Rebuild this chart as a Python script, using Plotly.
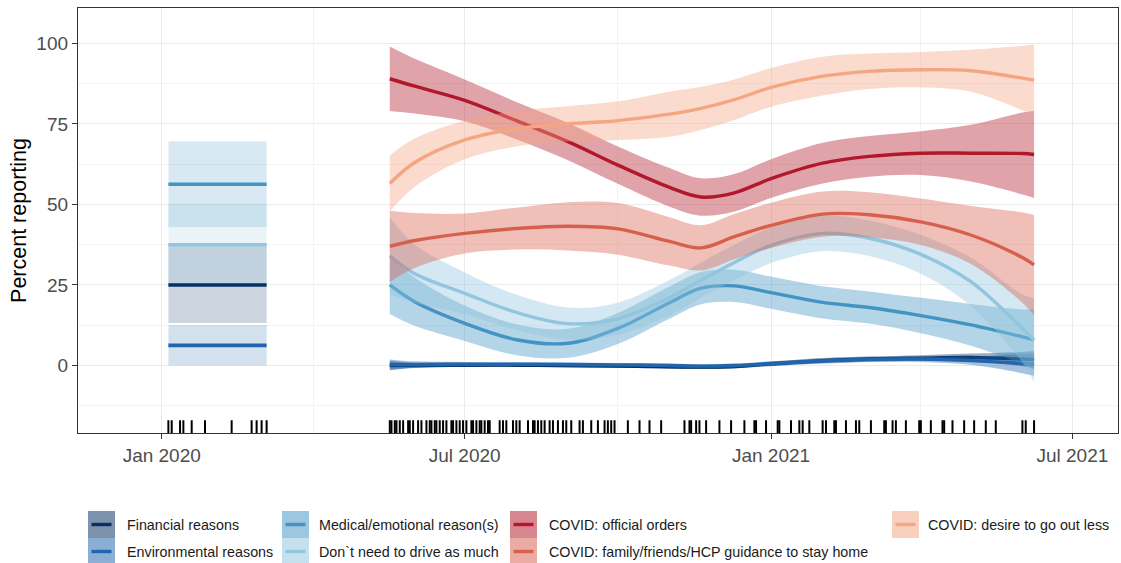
import plotly.graph_objects as go

# ---------------- data ----------------
categories = ["Financial reasons", "Environmental reasons", "Medical/emotional reason(s)",
              "Don`t need to drive as much", "COVID: official orders",
              "COVID: family/friends/HCP guidance to stay home", "COVID: desire to go out less"]
colors = ["#053061", "#2166AC", "#4393C3", "#92C5DE", "#B2182B", "#D6604D", "#F4A582"]

# pre-pandemic period (constant estimates with intervals)
pre_dates = ["2020-01-05", "2020-03-04"]
pre_mid = [25.0, 6.25, 56.25, 37.5]
pre_lo = [13.2, 0.0, 43.0, 25.0]
pre_hi = [37.6, 12.6, 69.6, 50.3]

# pandemic period smooths
dates = ["2020-05-17", "2020-06-01", "2020-07-01", "2020-08-01", "2020-09-01", "2020-10-01",
         "2020-11-01", "2020-11-20", "2020-12-10", "2021-01-01", "2021-02-01", "2021-03-01",
         "2021-04-01", "2021-05-01", "2021-06-01", "2021-06-08"]

fin_mid = [0.0, 0.0, 0.1, 0.1, 0.0, -0.2, -0.4, -0.5, -0.3, 0.5, 1.5, 2.0, 2.3, 2.5, 2.0, 1.8]
fin_half = [1.5, 0.8, 0.6, 0.6, 0.6, 0.6, 0.6, 0.6, 0.6, 0.7, 0.8, 0.8, 0.9, 1.2, 2.2, 2.6]
env_mid = [0.3, 0.3, 0.4, 0.4, 0.3, 0.2, 0.0, -0.2, 0.0, 0.6, 1.4, 1.9, 2.0, 1.5, 0.6, 0.3]
env_half = [1.6, 1.0, 0.7, 0.6, 0.6, 0.6, 0.6, 0.6, 0.6, 0.7, 0.8, 0.8, 0.9, 1.3, 3.0, 3.5]
med_mid = [25.0, 19.8, 13.1, 8.0, 6.9, 11.5, 19.5, 24.0, 24.7, 22.6, 19.6, 18.0, 15.5, 12.6, 8.9, 8.0]
med_half = [9.0, 7.5, 5.5, 4.8, 4.5, 4.8, 5.0, 5.0, 5.0, 5.0, 5.0, 5.0, 5.5, 6.5, 8.5, 9.5]
dont_mid = [34.0, 28.5, 22.4, 16.5, 13.0, 14.5, 21.0, 26.5, 32.0, 37.3, 41.0, 39.5, 34.5, 26.0, 11.5, 7.9]
dont_half = [12.0, 9.0, 6.5, 5.5, 5.0, 5.0, 5.5, 5.5, 5.5, 5.5, 5.5, 5.5, 6.0, 7.5, 10.5, 13.0]
off_mid = [89.0, 86.7, 82.3, 76.0, 69.5, 62.2, 55.3, 52.3, 53.6, 58.0, 62.8, 64.9, 65.9, 65.9, 65.8, 65.5]
off_half = [10.0, 8.5, 6.5, 5.8, 5.8, 5.8, 6.0, 5.8, 5.8, 6.0, 6.3, 6.3, 6.8, 8.8, 12.7, 13.5]
fam_mid = [37.0, 38.8, 41.0, 42.5, 43.2, 42.4, 38.5, 36.5, 40.0, 43.5, 47.0, 46.8, 44.6, 40.5, 33.5, 31.2]
fam_half = [11.0, 8.5, 6.2, 6.5, 7.5, 8.0, 7.5, 7.0, 7.0, 7.0, 7.0, 7.0, 7.2, 9.0, 14.0, 15.5]
des_mid = [56.5, 63.0, 70.0, 73.5, 75.0, 76.0, 78.0, 79.8, 82.5, 86.3, 89.8, 91.3, 91.8, 91.5, 89.2, 88.6]
des_half = [8.7, 7.5, 6.0, 5.5, 5.5, 6.0, 7.0, 6.7, 6.3, 6.0, 6.0, 5.5, 5.5, 6.5, 10.0, 11.0]

mids = [fin_mid, env_mid, med_mid, dont_mid, off_mid, fam_mid, des_mid]
halves = [fin_half, env_half, med_half, dont_half, off_half, fam_half, des_half]

# observation dates (rug)
rug_dates = [
    "2020-01-05", "2020-01-07", "2020-01-12", "2020-01-14", "2020-01-19", "2020-01-27",
    "2020-02-12", "2020-02-24", "2020-02-27", "2020-03-01", "2020-03-04",
    "2020-05-17", "2020-05-18", "2020-05-20", "2020-05-21", "2020-05-23", "2020-05-25",
    "2020-05-28", "2020-05-29", "2020-05-31", "2020-06-03", "2020-06-05", "2020-06-08",
    "2020-06-10", "2020-06-11", "2020-06-13", "2020-06-14", "2020-06-16", "2020-06-18",
    "2020-06-20", "2020-06-23", "2020-06-24", "2020-06-26", "2020-06-28", "2020-06-30",
    "2020-07-02", "2020-07-05", "2020-07-06", "2020-07-08", "2020-07-10", "2020-07-11",
    "2020-07-13", "2020-07-15", "2020-07-16", "2020-07-22", "2020-07-24", "2020-07-26",
    "2020-07-30", "2020-08-01", "2020-08-03", "2020-08-08", "2020-08-11", "2020-08-12",
    "2020-08-14", "2020-08-16", "2020-08-18", "2020-08-21", "2020-08-23", "2020-08-26",
    "2020-08-29", "2020-08-31", "2020-09-03", "2020-09-08", "2020-09-10", "2020-09-15",
    "2020-09-19", "2020-09-23", "2020-09-25", "2020-09-27", "2020-09-29", "2020-10-07",
    "2020-10-14", "2020-10-20", "2020-10-27", "2020-11-10", "2020-11-13", "2020-11-14",
    "2020-11-17", "2020-11-19", "2020-11-23", "2020-12-01", "2020-12-08", "2020-12-16",
    "2020-12-22", "2020-12-23", "2020-12-29", "2021-01-05", "2021-01-06", "2021-01-13",
    "2021-01-18", "2021-01-20", "2021-01-24", "2021-02-01", "2021-02-03", "2021-02-08",
    "2021-02-09", "2021-02-15", "2021-02-21", "2021-02-23", "2021-03-02", "2021-03-10",
    "2021-03-11", "2021-03-15", "2021-03-17", "2021-03-23", "2021-03-31", "2021-04-01",
    "2021-04-07", "2021-04-14", "2021-04-15", "2021-04-20", "2021-04-27", "2021-05-03",
    "2021-05-10", "2021-05-16", "2021-06-01", "2021-06-03", "2021-06-08"]

x_tickvals = ["2020-01-01", "2020-07-01", "2021-01-01", "2021-07-01"]
x_ticktext = ["Jan 2020", "Jul 2020", "Jan 2021", "Jul 2021"]
x_minor = ["2020-04-01", "2020-10-01", "2021-04-01"]
y_tickvals = [0, 25, 50, 75, 100]
y_minor = [-12.5, 12.5, 37.5, 62.5, 87.5]

# ---------------- helpers ----------------
W, H = 1121, 563
ML, MR, MT, MB = 78, 3, 8, 130
PW, PH = W - ML - MR, H - MT - MB
FONT = "Liberation Sans, Arial, sans-serif"


def rgba(h, a):
    h = h.lstrip("#")
    r, g, b = int(h[0:2], 16), int(h[2:4], 16), int(h[4:6], 16)
    return f"rgba({r},{g},{b},{a})"


def px2paper_x(px):
    return (px - ML) / PW


def px2paper_y(py):
    return (H - MB - py) / PH


fig = go.Figure()


def add_band(x, lo, hi, color, alpha, shape):
    fig.add_trace(go.Scatter(x=x, y=lo, mode="lines", line=dict(width=0, color=color, shape=shape),
                             showlegend=False, hoverinfo="skip"))
    fig.add_trace(go.Scatter(x=x, y=hi, mode="lines", line=dict(width=0, color=color, shape=shape),
                             fill="tonexty", fillcolor=rgba(color, alpha),
                             showlegend=False, hoverinfo="skip"))


# pre-pandemic bands then lines
for i in range(4):
    add_band(pre_dates, [pre_lo[i]] * 2, [pre_hi[i]] * 2, colors[i], 0.2, "linear")
for i in range(4):
    fig.add_trace(go.Scatter(x=pre_dates, y=[pre_mid[i]] * 2, mode="lines", name=categories[i],
                             line=dict(color=colors[i], width=3.6), showlegend=False))

# pandemic smooths: ribbon + line per group
for i in range(7):
    lo = [m - h for m, h in zip(mids[i], halves[i])]
    hi = [m + h for m, h in zip(mids[i], halves[i])]
    add_band(dates, lo, hi, colors[i], 0.4, "spline")
    fig.add_trace(go.Scatter(x=dates, y=mids[i], mode="lines", name=categories[i],
                             line=dict(color=colors[i], width=3.4, shape="spline"),
                             showlegend=False))

# rug on an overlay axis in panel fraction
rx, ry = [], []
for d in rug_dates:
    rx += [d, d, None]
    ry += [0, 0.03, None]
fig.add_trace(go.Scatter(x=rx, y=ry, mode="lines", line=dict(color="black", width=2),
                         yaxis="y2", showlegend=False, hoverinfo="skip"))

# ---------------- manual ggplot-style legend ----------------
legend_layout = [  # (category index, key left px, text left px, row)
    (0, 88, 125, 0), (1, 88, 125, 1),
    (2, 282, 317, 0), (3, 282, 317, 1),
    (4, 510, 547, 0), (5, 510, 547, 1),
    (6, 892, 926, 0),
]
KEY = 27
ROW_TOP = 511
shapes = []
annotations = []
for ci, kx, tx, row in legend_layout:
    top = ROW_TOP + row * KEY
    shapes.append(dict(type="rect", xref="paper", yref="paper",
                       x0=px2paper_x(kx), x1=px2paper_x(kx + KEY),
                       y0=px2paper_y(top), y1=px2paper_y(top + KEY),
                       fillcolor=rgba(colors[ci], 0.52), line=dict(width=0), layer="above"))
    cy = px2paper_y(top + KEY / 2)
    shapes.append(dict(type="line", xref="paper", yref="paper",
                       x0=px2paper_x(kx + 3.5), x1=px2paper_x(kx + KEY - 3.5), y0=cy, y1=cy,
                       line=dict(color=colors[ci], width=3.4), layer="above"))
    annotations.append(dict(text=categories[ci], xref="paper", yref="paper",
                            x=px2paper_x(tx), y=cy, xanchor="left", yanchor="middle",
                            showarrow=False, font=dict(family=FONT, size=14.3, color="#1A1A1A")))

fig.update_layout(
    width=W, height=H,
    margin=dict(l=ML, r=MR, t=MT, b=MB, autoexpand=False),
    paper_bgcolor="white", plot_bgcolor="white",
    font=dict(family=FONT),
    showlegend=False,
    shapes=shapes, annotations=annotations,
    xaxis=dict(type="date", range=["2019-11-11 17:00", "2021-07-28 10:00"],
               tickmode="array", tickvals=x_tickvals, ticktext=x_ticktext,
               tickfont=dict(size=19, color="#4D4D4D"),
               showgrid=True, gridcolor="#EBEBEB", gridwidth=1.1,
               minor=dict(tickmode="array", tickvals=x_minor, showgrid=True,
                          gridcolor="#F3F3F3", gridwidth=0.8, ticklen=0),
               ticks="outside", ticklen=5, tickcolor="#333333", tickwidth=1.3,
               showline=True, mirror=True, linecolor="#333333", linewidth=1.3,
               zeroline=False),
    yaxis=dict(range=[-20.95, 110.96], tickmode="array", tickvals=y_tickvals,
               tickfont=dict(size=19, color="#4D4D4D"),
               title=dict(text="Percent reporting", font=dict(size=21.5, color="black"), standoff=3),
               showgrid=True, gridcolor="#EBEBEB", gridwidth=1.1,
               minor=dict(tickmode="array", tickvals=y_minor, showgrid=True,
                          gridcolor="#F3F3F3", gridwidth=0.8, ticklen=0),
               ticks="outside", ticklen=5, tickcolor="#333333", tickwidth=1.3,
               showline=True, mirror=True, linecolor="#333333", linewidth=1.3,
               zeroline=False),
    yaxis2=dict(overlaying="y", range=[0, 1], visible=False, fixedrange=True),
)

fig.write_html("out.html", config={"displayModeBar": False},
               post_script="document.body.style.margin='0px';document.body.style.overflow='hidden';")
